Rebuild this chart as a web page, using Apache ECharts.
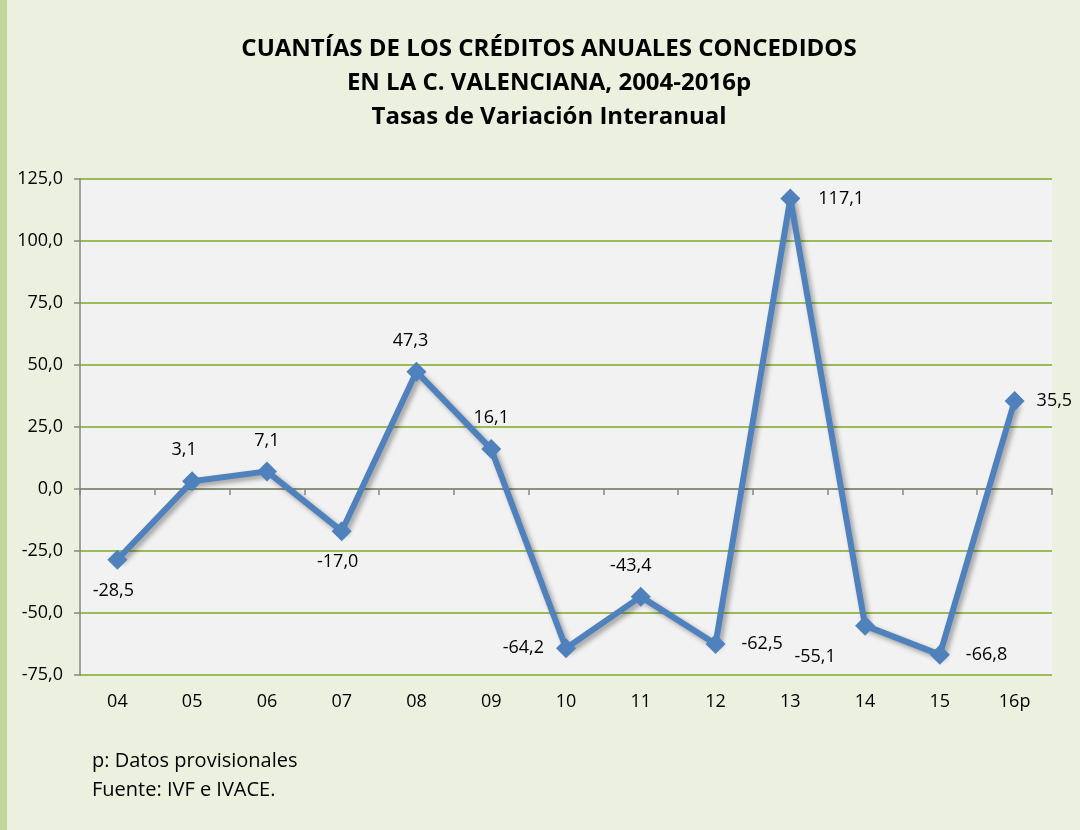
<!DOCTYPE html>
<html>
<head>
<meta charset="utf-8">
<script src="https://cdn.jsdelivr.net/npm/echarts@6/dist/echarts.min.js"></script>
<style>
  html, body { margin: 0; padding: 0; background: #EBF1DE; }
  #chart { width: 1080px; height: 830px; }
</style>
</head>
<body>
<div id="chart"></div>
<script>
// datos
const years = ['04', '05', '06', '07', '08', '09', '10', '11', '12', '13', '14', '15', '16p'];
const tasas = [-28.5, 3.1, 7.1, -17.0, 47.3, 16.1, -64.2, -43.4, -62.5, 117.1, -55.1, -66.8, 35.5];
// posición de cada etiqueta (estilo, no datos)
const labelPos = ['bottom', 'top', 'top', 'bottom', 'top', 'top', 'left', 'top', 'right', 'right', 'bottom', 'right', 'right'];
const labelOffset = [[-4, 0], [-8, 0], [0, 0], [-4, 0], [-6, 0], [0, 0], [0, 0], [-10, 0], [4, 0], [6, 0], [-50, 0], [4, 0], [0, 0]];

const fontFam = 'Open Sans';
const fmt = v => v.toFixed(1).replace('.', ',');

const chart = echarts.init(document.getElementById('chart'));

const seriesData = tasas.map((v, i) => ({
    value: v,
    label: { position: labelPos[i], offset: labelOffset[i] }
}));

const option = {
    backgroundColor: '#EBF1DE',
    animation: false,
    title: {
        text: 'CUANTÍAS DE LOS CRÉDITOS ANUALES CONCEDIDOS\nEN LA C. VALENCIANA, 2004-2016p\nTasas de Variación Interanual',
        left: 544,
        top: 27,
        textAlign: 'center',
        textStyle: {
            fontFamily: fontFam,
            fontWeight: 'bold',
            fontSize: 24,
            lineHeight: 34,
            color: '#000'
        }
    },
    graphic: [
        { type: 'rect', left: 0, top: 0, shape: { width: 7, height: 830 }, style: { fill: '#C3D69B' } },
        {
            type: 'text', left: 92, top: 747,
            style: { text: 'p: Datos provisionales\nFuente: IVF e IVACE.', font: '20px "Open Sans"', lineHeight: 29, fill: '#000' }
        }
    ],
    grid: {
        left: 80,
        right: 28,
        top: 179,
        bottom: 155,
        show: true,
        backgroundColor: '#F2F2F2',
        borderWidth: 0
    },
    xAxis: [
        {
            type: 'category',
            data: years,
            boundaryGap: true,
            axisLine: { onZero: true, lineStyle: { color: '#868686', width: 1.5 } },
            axisTick: { show: true, length: 6, lineStyle: { color: '#868686', width: 1.5 } },
            axisLabel: { show: false },
            splitLine: { show: false }
        },
        {
            type: 'category',
            data: years,
            position: 'bottom',
            boundaryGap: true,
            axisLine: { show: false },
            axisTick: { show: false },
            axisLabel: { show: true, margin: 18, fontFamily: fontFam, fontSize: 18, color: '#000' },
            splitLine: { show: false }
        }
    ],
    yAxis: {
        type: 'value',
        min: -75,
        max: 125,
        interval: 25,
        axisLine: { show: true, lineStyle: { color: '#868686', width: 1.5 } },
        axisTick: { show: true, length: 6, lineStyle: { color: '#868686', width: 1.5 } },
        axisLabel: {
            margin: 17,
            fontFamily: fontFam,
            fontSize: 18,
            color: '#000',
            formatter: v => fmt(v)
        },
        splitLine: { show: true, lineStyle: { color: '#9BBB59', width: 2 } }
    },
    series: [
        {
            type: 'line',
            xAxisIndex: 0,
            data: seriesData,
            symbol: 'diamond',
            symbolSize: 20,
            itemStyle: { color: '#4F81BD' },
            lineStyle: {
                color: '#4F81BD',
                width: 6,
                shadowColor: 'rgba(0,0,0,0.35)',
                shadowBlur: 5,
                shadowOffsetX: 3,
                shadowOffsetY: 3
            },
            label: {
                show: true,
                distance: 12,
                fontFamily: fontFam,
                fontSize: 18,
                color: '#000',
                formatter: p => fmt(p.value)
            }
        }
    ]
};

chart.setOption(option);
</script>
</body>
</html>
